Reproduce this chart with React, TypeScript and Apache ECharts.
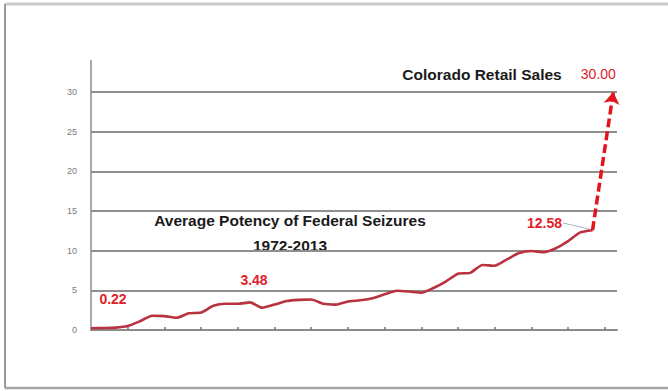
import React, { useEffect, useRef } from "react";
import * as echarts from "echarts";

// ---- data ----
const years = [
  1972, 1973, 1974, 1975, 1976, 1977, 1978, 1979, 1980, 1981,
  1982, 1983, 1984, 1985, 1986, 1987, 1988, 1989, 1990, 1991,
  1992, 1993, 1994, 1995, 1996, 1997, 1998, 1999, 2000, 2001,
  2002, 2003, 2004, 2005, 2006, 2007, 2008, 2009, 2010, 2011,
  2012, 2013,
];
const potency = [
  0.22, 0.25, 0.3, 0.5, 1.1, 1.8, 1.75, 1.55, 2.1, 2.2,
  3.05, 3.3, 3.3, 3.48, 2.8, 3.2, 3.65, 3.8, 3.85, 3.3,
  3.2, 3.6, 3.75, 4.0, 4.5, 4.95, 4.85, 4.7, 5.3, 6.1,
  7.1, 7.2, 8.2, 8.1, 8.9, 9.7, 9.95, 9.8, 10.3, 11.2,
  12.3, 12.58,
];
const retailYears = [2013, 2014.7];
const retailValues = [12.58, 30];
const labelledYears = [1972, 1985, 2013];
const xTickYears = [1975, 1978, 1981, 1984, 1987, 1990, 1993, 1996, 1999, 2002, 2005, 2008, 2011, 2014];
const yTickValues = [0, 5, 10, 15, 20, 25, 30];
const xRange = [1972, 2015];

const titleRetail = "Colorado Retail Sales";
const titlePotency = ["Average Potency of Federal Seizures", "1972-2013"];

// ---- layout ----
const GRID_LEFT = 91;
const GRID_TOP = 92;
const GRID_RIGHT = 51;
const GRID_BOTTOM = 61;
const FONT = "'Liberation Sans', Arial, sans-serif";

export default function App() {
  const ref = useRef<HTMLDivElement>(null);

  useEffect(() => {
    document.body.style.margin = "0";
    const chart = echarts.init(ref.current!, null, { renderer: "svg" });

    const labelStyle = {
      color: "#e0202a",
      fontWeight: "bold" as const,
      fontSize: 14,
      fontFamily: FONT,
    };
    const labelOffsets: Record<number, number[]> = {
      1972: [22, -29],
      1985: [4, -22],
      2013: [-48, -7],
    };

    const mainData = years.map((y, i) => {
      const item: any = { value: [y, potency[i]] };
      if (labelledYears.includes(y)) {
        item.label = {
          show: true,
          position: "inside",
          offset: labelOffsets[y],
          formatter: potency[i].toFixed(2),
          ...labelStyle,
        };
      }
      return item;
    });

    const retailData = retailYears.map((y, i) => {
      const item: any = { value: [y, retailValues[i]] };
      if (i === retailYears.length - 1) {
        item.label = {
          show: true,
          position: "inside",
          offset: [-15, -18],
          formatter: retailValues[i].toFixed(2),
          ...labelStyle,
          fontWeight: "normal",
        };
      }
      return item;
    });

    chart.setOption({
      animation: false,
      backgroundColor: "#ffffff",
      grid: {
        left: GRID_LEFT,
        top: GRID_TOP,
        right: GRID_RIGHT,
        bottom: GRID_BOTTOM,
        containLabel: false,
        outerBoundsMode: "none",
      },
      xAxis: {
        type: "value",
        min: xRange[0],
        max: xRange[1],
        axisLine: { show: true, onZero: false, lineStyle: { color: "#8c8c8c", width: 2 } },
        axisTick: {
          show: true,
          customValues: xTickYears,
          length: 3,
          inside: true,
          lineStyle: { color: "#777", width: 1.5 },
        },
        axisLabel: { show: false },
        splitLine: { show: false },
      },
      yAxis: {
        type: "value",
        min: yTickValues[0],
        max: yTickValues[yTickValues.length - 1],
        interval: 5,
        axisLine: { show: true, lineStyle: { color: "#8c8c8c", width: 1.5 } },
        axisTick: { show: false },
        axisLabel: {
          color: "#7a7a7a",
          fontSize: 9,
          margin: 14,
          fontFamily: FONT,
        },
        splitLine: { show: true, lineStyle: { color: "#8f8f8f", width: 2 } },
      },
      series: [
        {
          type: "line",
          data: mainData,
          smooth: 0.2,
          symbol: "circle",
          symbolSize: 0,
          showSymbol: true,
          lineStyle: { color: "#b8323f", width: 2.6 },
          itemStyle: { color: "#b8323f" },
          z: 3,
        },
        {
          type: "line",
          data: retailData,
          clip: false,
          symbol: "circle",
          symbolSize: 0,
          showSymbol: true,
          itemStyle: { color: "rgba(0,0,0,0)" },
          lineStyle: { color: "rgba(0,0,0,0)", width: 0 },
          markLine: {
            silent: true,
            symbol: ["none", "arrow"],
            symbolSize: 12,
            label: { show: false },
            lineStyle: { color: "#e3141c", width: 3.5, type: [9, 4] },
            data: [
              [
                { coord: [retailYears[0], retailValues[0]] },
                { coord: [retailYears[1], retailValues[1]] },
              ],
            ],
          },
          z: 4,
        },
      ],
      graphic: [
        // frame
        { type: "line", shape: { x1: 5, y1: 4, x2: 668, y2: 4 }, style: { stroke: "#c9c9c9", lineWidth: 3 } },
        { type: "line", shape: { x1: 5, y1: 4, x2: 5, y2: 388 }, style: { stroke: "#9a9a9a", lineWidth: 2 } },
        { type: "line", shape: { x1: 5, y1: 388, x2: 668, y2: 388 }, style: { stroke: "#a5a5a5", lineWidth: 2.5 } },
        // axis extension above the top gridline
        {
          type: "line",
          shape: { x1: GRID_LEFT, y1: 60, x2: GRID_LEFT, y2: GRID_TOP },
          style: { stroke: "#8c8c8c", lineWidth: 1.5 },
        },
        // leader line from the 12.58 label to its point
        {
          type: "line",
          shape: { x1: 563, y1: 223, x2: 589, y2: 229 },
          style: { stroke: "#a9b8c8", lineWidth: 1 },
        },
        {
          type: "text",
          x: 482,
          y: 74,
          style: {
            text: titleRetail,
            fill: "#1a1a1a",
            font: `bold 15.5px ${FONT}`,
            textAlign: "center",
            textVerticalAlign: "middle",
          },
        },
        {
          type: "text",
          x: 290,
          y: 220,
          style: {
            text: titlePotency[0],
            fill: "#1a1a1a",
            font: `bold 15.5px ${FONT}`,
            textAlign: "center",
            textVerticalAlign: "middle",
          },
        },
        {
          type: "text",
          x: 290,
          y: 245,
          style: {
            text: titlePotency[1],
            fill: "#1a1a1a",
            font: `bold 15.5px ${FONT}`,
            textAlign: "center",
            textVerticalAlign: "middle",
          },
        },
      ],
    });

    return () => chart.dispose();
  }, []);

  return (
    <div
      ref={ref}
      style={{ position: "absolute", left: 0, top: 0, width: 668, height: 391, background: "#fff" }}
    />
  );
}
